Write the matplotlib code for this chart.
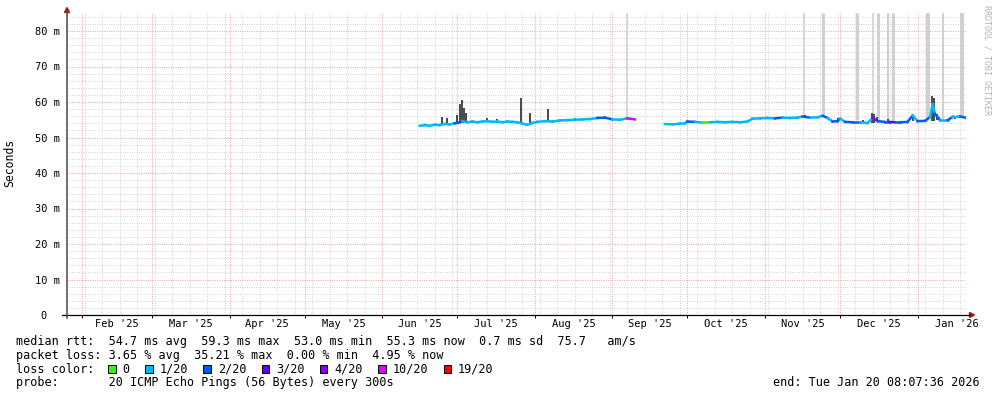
import numpy as np
import matplotlib
matplotlib.use('Agg')
import matplotlib.pyplot as plt
import matplotlib.dates as mdates
from matplotlib.collections import LineCollection
from matplotlib.lines import Line2D
from matplotlib.patches import Rectangle, Polygon
from matplotlib.ticker import MultipleLocator, FuncFormatter
from datetime import datetime

W, H = 997, 397
MONO = 'DejaVu Sans Mono'
YMAX = 85

t_start = datetime(2025, 1, 26, 0, 0)
t_end = datetime(2026, 1, 20, 8, 7, 36)

# median rtt in ms, loss class per sample (index into loss_colors)
seg1_dates = ['2025-06-16', '2025-06-18', '2025-06-20', '2025-06-22', '2025-06-24', '2025-06-26',
              '2025-06-28', '2025-06-30', '2025-07-02', '2025-07-03', '2025-07-05', '2025-07-07',
              '2025-07-09', '2025-07-11', '2025-07-13', '2025-07-15', '2025-07-17', '2025-07-19',
              '2025-07-21', '2025-07-23', '2025-07-25', '2025-07-27', '2025-07-29', '2025-07-31',
              '2025-08-02', '2025-08-05', '2025-08-08', '2025-08-11', '2025-08-14', '2025-08-17',
              '2025-08-20', '2025-08-23', '2025-08-26', '2025-08-29', '2025-09-01', '2025-09-04',
              '2025-09-07', '2025-09-10']
seg1_rtt = [53.3, 53.5, 53.3, 53.6, 53.5, 53.8,
            53.7, 54.0, 54.3, 54.6, 54.3, 54.5,
            54.3, 54.5, 54.6, 54.4, 54.5, 54.3,
            54.5, 54.4, 54.3, 53.9, 53.6, 54.1,
            54.4, 54.6, 54.5, 54.8, 54.9, 55.0,
            55.1, 55.2, 55.5, 55.6, 55.1, 55.0,
            55.4, 55.1]
seg1_loss = [1, 1, 1, 1, 1, 1,
             1, 2, 2, 1, 1, 1,
             1, 1, 1, 1, 1, 1,
             1, 1, 1, 1, 1, 1,
             1, 1, 1, 1, 1, 1,
             1, 1, 2, 2, 1, 1,
             5, 1]

seg2_dates = ['2025-09-22', '2025-09-25', '2025-09-28', '2025-09-30', '2025-10-01', '2025-10-04',
              '2025-10-07', '2025-10-10', '2025-10-13', '2025-10-16', '2025-10-19', '2025-10-22',
              '2025-10-25', '2025-10-27', '2025-10-30', '2025-11-02', '2025-11-05', '2025-11-08',
              '2025-11-11', '2025-11-14', '2025-11-16', '2025-11-19', '2025-11-22', '2025-11-24',
              '2025-11-26', '2025-11-28', '2025-11-30', '2025-12-01', '2025-12-03', '2025-12-06',
              '2025-12-09', '2025-12-12', '2025-12-14', '2025-12-16', '2025-12-19', '2025-12-21',
              '2025-12-23', '2025-12-25', '2025-12-28', '2025-12-30', '2026-01-01', '2026-01-04',
              '2026-01-06', '2026-01-07', '2026-01-08', '2026-01-10', '2026-01-13', '2026-01-15',
              '2026-01-18', '2026-01-20']
seg2_rtt = [53.8, 53.7, 53.9, 54.0, 54.5, 54.4,
            54.2, 54.3, 54.4, 54.3, 54.4, 54.3,
            54.5, 55.3, 55.4, 55.5, 55.4, 55.6,
            55.5, 55.6, 55.9, 55.6, 55.7, 56.1,
            55.5, 54.5, 54.6, 55.3, 54.4, 54.3,
            54.3, 54.1, 55.5, 54.6, 54.4, 54.4,
            54.3, 54.3, 54.4, 56.2, 54.6, 54.7,
            55.8, 59.4, 56.6, 54.9, 54.9, 55.8,
            55.9, 55.6]
seg2_loss = [1, 1, 1, 1, 2, 1,
             0, 1, 1, 1, 1, 1,
             1, 1, 1, 1, 2, 1,
             1, 1, 2, 1, 1, 2,
             1, 2, 2, 1, 2, 2,
             1, 1, 4, 2, 2, 3,
             2, 2, 2, 1, 2, 2,
             1, 1, 2, 1, 2, 1,
             2, 1]

# dark smoke spikes: low / high rtt
spike_dates = ['2025-06-24 17:00', '2025-06-27 02:00', '2025-07-01 02:00', '2025-07-01 22:00',
               '2025-07-02 17:00', '2025-07-03 12:00', '2025-07-04 07:00', '2025-07-13 00:00',
               '2025-07-17 00:00', '2025-07-26 07:00', '2025-07-30 00:00', '2025-08-06 02:00',
               '2025-08-17 00:00',
               '2025-11-17 00:00', '2025-11-30 00:00', '2025-12-10 00:00', '2025-12-13 17:00',
               '2025-12-14 12:00', '2025-12-15 17:00', '2025-12-20 00:00', '2025-12-30 00:00',
               '2026-01-06 17:00', '2026-01-07 12:00', '2026-01-08 17:00', '2026-01-10 00:00',
               '2026-01-16 00:00']
spike_lo = [53.5, 53.6, 53.9, 54.0, 54.0, 54.2, 54.3, 54.4, 54.4, 54.0, 53.6, 54.5, 54.8,
            55.5, 54.4, 54.1, 54.2, 54.2, 54.3, 54.4, 54.6, 54.6, 54.6, 54.8, 54.7, 55.2]
spike_hi = [55.9, 55.5, 56.3, 59.4, 60.6, 58.3, 56.9, 55.5, 55.3, 61.1, 56.8, 58.0, 55.4,
            56.2, 55.4, 55.0, 57.0, 56.6, 55.7, 55.2, 56.3, 61.7, 61.0, 56.6, 55.3, 56.0]

# light smoke running off the top of the graph
tall_dates = ['2025-09-06 19:00', '2025-11-16 12:00', '2025-11-24 02:00', '2025-12-07 17:00',
              '2025-12-14 02:00', '2025-12-16 02:00', '2025-12-20 02:00', '2025-12-22 02:00',
              '2026-01-05 02:00', '2026-01-11 02:00', '2026-01-18 17:00']
tall_lo = [55.5, 56.0, 56.0, 54.8, 57.0, 55.0, 55.0, 55.0, 55.5, 55.2, 56.0]
tall_px = [1.6, 1.5, 3, 3, 1.5, 3, 2, 3, 4, 2, 4]

loss_labels = ['0', '1/20', '2/20', '3/20', '4/20', '10/20', '19/20']
loss_colors = ['#26ff00', '#00b8ff', '#0059ff', '#5e00ff', '#7e00ff', '#dd00ff', '#ff0000']

month_labels = ["Feb '25", "Mar '25", "Apr '25", "May '25", "Jun '25", "Jul '25",
                "Aug '25", "Sep '25", "Oct '25", "Nov '25", "Dec '25", "Jan '26"]

legend_lines = ["median rtt:  54.7 ms avg  59.3 ms max  53.0 ms min  55.3 ms now  0.7 ms sd  75.7   am/s",
                "packet loss: 3.65 % avg  35.21 % max  0.00 % min  4.95 % now",
                "loss color:",
                "probe:       20 ICMP Echo Pings (56 Bytes) every 300s"]
end_text = "end: Tue Jan 20 08:07:36 2026"


def fx(px):
    return px / W


def fy(py):
    return 1 - py / H


def to_num(strs):
    return mdates.date2num([datetime.fromisoformat(s) for s in strs])


fig = plt.figure(figsize=(W / 100, H / 100), dpi=100)
ax = fig.add_axes([fx(67), fy(315), (966 - 67) / W, (315 - 13.25) / H])
ax.set_xlim(t_start, t_end)
ax.set_ylim(0, YMAX)
for s in ax.spines.values():
    s.set_visible(False)

# grid, dotted
ax.xaxis.set_major_locator(mdates.MonthLocator())
ax.xaxis.set_minor_locator(mdates.WeekdayLocator(byweekday=mdates.SU))
ax.yaxis.set_major_locator(MultipleLocator(10))
ax.yaxis.set_minor_locator(MultipleLocator(2))
ax.grid(which='minor', color='#d6d6d6', linestyle=(0, (1, 1.3)), linewidth=0.72, zorder=0)
ax.grid(which='major', color='#eaa8a8', linestyle=(0, (1, 1.3)), linewidth=0.72, zorder=0.5)
ax.set_axisbelow(True)
ax.xaxis.set_major_formatter(FuncFormatter(lambda v, p: ''))
ax.tick_params(axis='x', which='major', length=2, width=0.7, color='#000000', direction='out')
ax.tick_params(axis='x', which='minor', length=0)
ax.tick_params(axis='y', which='both', length=0, pad=5)
ax.yaxis.set_major_formatter(FuncFormatter(lambda v, p: '0\u00a0\u00a0' if v == 0 else '%d m' % v))
for lab in ax.get_yticklabels():
    lab.set_fontfamily(MONO)
    lab.set_fontsize(7.5)

# month labels centered between month starts
starts = [datetime(2025, m, 1) for m in range(2, 13)] + [datetime(2026, 1, 1), datetime(2026, 2, 1)]
starts = mdates.date2num(starts)
for i, lab in enumerate(month_labels):
    mid = (starts[i] + starts[i + 1]) / 2
    ax.text(mid, -9 / 301.75, lab, transform=ax.get_xaxis_transform(), ha='center', va='center',
            fontfamily=MONO, fontsize=7.5, color='#000000')

# smoke
tall_x = to_num(tall_dates)
ax.vlines(tall_x, tall_lo, YMAX, colors='#d0d0d0', linewidths=[p * 0.72 for p in tall_px], zorder=2)
ax.vlines(to_num(spike_dates), spike_lo, spike_hi, colors='#2a2a2a', linewidths=1.2, zorder=3)

# median line coloured by loss
for dates, rtt, loss in [(seg1_dates, seg1_rtt, seg1_loss), (seg2_dates, seg2_rtt, seg2_loss)]:
    xs = to_num(dates)
    pts = np.column_stack([xs, rtt])
    segs = np.stack([pts[:-1], pts[1:]], axis=1)
    lc = LineCollection(segs, colors=[loss_colors[k] for k in loss[:-1]], linewidths=1.8,
                        capstyle='projecting', zorder=4)
    ax.add_collection(lc)

# axis lines with arrows
fig.add_artist(Line2D([fx(62), fx(970)], [fy(315), fy(315)], color='#000000', lw=0.9))
fig.add_artist(Line2D([fx(67), fx(67)], [fy(318), fy(11)], color='#4a4a4a', lw=1.1))
arrow_c = '#9e1b1b'
fig.add_artist(Polygon([[fx(64.5), fy(12.5)], [fx(69.5), fy(12.5)], [fx(67), fy(7.5)]],
                       closed=True, color=arrow_c, transform=fig.transFigure))
fig.add_artist(Polygon([[fx(969.5), fy(312.5)], [fx(969.5), fy(317.5)], [fx(974.5), fy(315)]],
                       closed=True, color=arrow_c, transform=fig.transFigure))

# labels
fig.text(fx(10), fy(163), 'Seconds', rotation=90, ha='center', va='center',
         fontfamily=MONO, fontsize=8.3)
fig.text(fx(987), fy(60), 'RRDTOOL / TOBI OETIKER', rotation=270, ha='center', va='center',
         fontfamily=MONO, fontsize=6.0, color='#b4b4b4')

# legend block
row_y = [341.5, 355.3, 369.1, 382.9]
for txt, y in zip(legend_lines, row_y):
    fig.text(fx(16), fy(y), txt, ha='left', va='center', fontfamily=MONO, fontsize=8.5)
fig.text(fx(980), fy(row_y[3]), end_text, ha='right', va='center', fontfamily=MONO, fontsize=8.5)

bx = 108
for lab, col in zip(loss_labels, loss_colors):
    fig.add_artist(Rectangle((fx(bx), fy(row_y[2] + 4)), 7.5 / W, 8 / H, facecolor=col,
                             edgecolor='#000000', linewidth=0.7, transform=fig.transFigure))
    fig.text(fx(bx + 14.5), fy(row_y[2]), lab, ha='left', va='center', fontfamily=MONO, fontsize=8.5)
    bx += 14.5 + (len(lab) + 2) * 7.1 + 1.2

fig.savefig('out.png', dpi=100, facecolor='white')
